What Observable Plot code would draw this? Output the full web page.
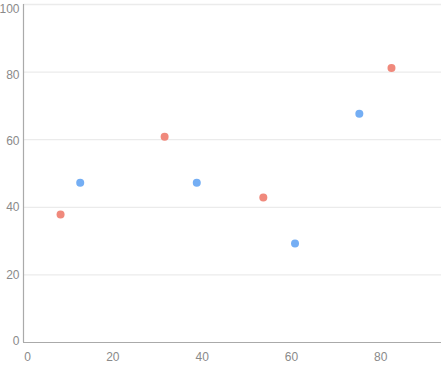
<!DOCTYPE html>
<html>
<head>
<meta charset="utf-8">
<script src="https://cdn.jsdelivr.net/npm/d3@7"></script>
<script src="https://cdn.jsdelivr.net/npm/@observablehq/plot@0.6"></script>
<style>
  html, body { margin: 0; padding: 0; background: #fff; }
  #chart svg { display: block; }
</style>
</head>
<body>
<div id="chart"></div>
<script>
const seriesNames = ["A", "B"];
const redX = [8.3, 31.6, 53.7, 82.4];
const redY = [37.9, 60.9, 42.9, 81.2];
const blueX = [12.7, 38.8, 60.8, 75.2];
const blueY = [47.3, 47.3, 29.3, 67.7];
const xTicks = [0, 20, 40, 60, 80];
const yTicks = [0, 20, 40, 60, 80, 100];
const colors = ["#f0897c", "#74aef4"];

const points = [
  ...redX.map((x, i) => ({x, y: redY[i], s: seriesNames[0]})),
  ...blueX.map((x, i) => ({x, y: blueY[i], s: seriesNames[1]}))
];

const axisStyle = {tickSize: 0, fill: "#8a8a8a", fontSize: 12, label: null};

const chart = Plot.plot({
  width: 443,
  height: 366,
  marginLeft: 23,
  marginRight: 2,
  marginTop: 4,
  marginBottom: 24,
  style: {fontFamily: "'Liberation Sans', Arial, sans-serif", fontSize: "12px", color: "#8a8a8a", background: "#fff"},
  x: {domain: [0, 93.6], ticks: xTicks, label: null},
  y: {domain: [0, 100], ticks: yTicks, label: null},
  color: {domain: seriesNames, range: colors},
  marks: [
    Plot.ruleY(yTicks.filter(d => d > 0), {stroke: "#ebebeb", strokeWidth: 1.3}),
    Plot.ruleX([0], {stroke: "#aaa", strokeWidth: 1.2}),
    Plot.ruleY([0], {stroke: "#aaa", strokeWidth: 1.2}),
    Plot.axisX({...axisStyle, ticks: xTicks.filter(d => d > 0), tickPadding: 10}),
    Plot.axisX({...axisStyle, ticks: [0], tickPadding: 10, dx: 4}),
    Plot.axisY({...axisStyle, ticks: [0], tickPadding: 4, dy: -1}),
    Plot.axisY({...axisStyle, ticks: [20, 40], tickPadding: 4}),
    Plot.axisY({...axisStyle, ticks: [60], tickPadding: 4, dy: 1.5}),
    Plot.axisY({...axisStyle, ticks: [80], tickPadding: 4, dy: 3}),
    Plot.axisY({...axisStyle, ticks: [100], tickPadding: 4, dy: 4.5}),
    Plot.dot(points, {x: "x", y: "y", fill: "s", r: 4, stroke: "none"})
  ]
});
document.getElementById("chart").appendChild(chart);
</script>
</body>
</html>
